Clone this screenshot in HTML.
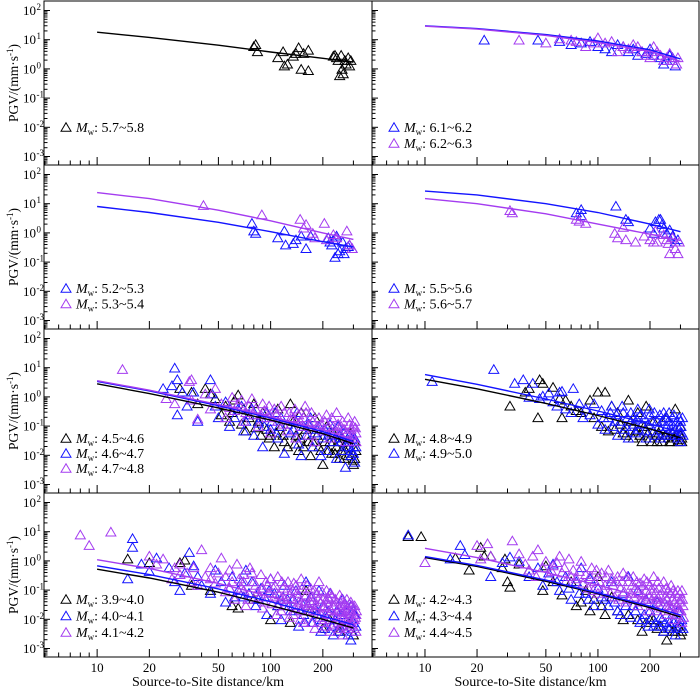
<!DOCTYPE html>
<html><head><meta charset="utf-8">
<style>
html,body{margin:0;padding:0;background:#fff;}
svg{display:block;font-family:"Liberation Serif",serif;}
</style></head>
<body>
<svg id="chart" width="700" height="688" viewBox="0 0 700 688" xmlns="http://www.w3.org/2000/svg"></svg>
<script>
// ---- data ----
const lineD = [10, 20, 50, 100, 200, 300];
const xTickLabels = ["10", "20", "50", "100", "200"];
const yTickExps = [2, 1, 0, -1, -2, -3];

// panel 1 (Mw 5.7~5.8)
const p1Labels = ["5.7~5.8"];
const p1Line0 = [18, 12, 6.5, 3.8, 2.3, 1.7];
const p1Pts0 = [[80,6],[82,7],[84,4],[110,2.5],[118,4],[120,1.3],[125,1.5],[135,2.8],[140,3.5],[145,5.5],[150,1],[155,3.5],[165,4.5],[165,0.9],[230,2.8],[235,3],[240,2.5],[245,2],[250,0.6],[255,3],[258,1],[262,0.7],[268,2],[272,1.5],[280,2.5],[285,1.3],[290,2]];

// panel 2 (Mw 6.1~6.2, 6.2~6.3)
const p2Labels = ["6.1~6.2", "6.2~6.3"];
const p2Line0 = [30, 24, 15, 9, 4.5, 2.2];
const p2Line1 = [29, 23, 14, 8, 4, 1.8];
const p2Pts0 = [[22,10],[45,10],[60,9],[70,7],[80,8],[90,9],[100,6],[110,5],[120,4],[130,7],[140,6],[150,4],[160,5],[170,3],[180,4],[190,3.5],[200,5],[210,3],[230,2.5],[240,1.5],[250,2],[260,3],[270,2.5],[280,1.3]];
const p2Pts1 = [[35,10],[50,8],[60,11],[70,10],[75,9],[85,6],[95,8],[100,12],[110,8],[120,9],[130,4],[140,6],[150,5],[160,7],[170,6],[180,4],[190,3],[200,2.5],[210,6],[220,4],[230,3],[240,2],[250,2.5],[260,3.5],[270,2],[285,1.5],[290,2.5]];

// panel 3 (Mw 5.2~5.3, 5.3~5.4)
const p3Labels = ["5.2~5.3", "5.3~5.4"];
const p3Line0 = [8, 5, 2.3, 1.1, 0.5, 0.33];
const p3Line1 = [24, 15, 6, 2.6, 1, 0.6];
const p3Pts0 = [[78,2.2],[80,1.2],[82,1],[110,0.7],[120,1.2],[122,0.4],[135,0.45],[140,0.6],[150,0.8],[160,0.3],[170,0.8],[215,0.7],[220,0.5],[225,0.4],[230,0.6],[235,0.15],[240,0.8],[245,0.2],[250,0.25],[260,0.5],[265,0.2],[270,0.3],[280,0.35],[285,0.4],[295,0.3]];
const p3Pts1 = [[41,9],[89,4.3],[148,3],[155,1.5],[160,2],[175,1],[180,0.7],[204,2.2],[210,0.6],[230,0.9],[240,0.7],[275,1.2],[285,0.4],[295,0.3]];

// panel 4 (Mw 5.5~5.6, 5.6~5.7)
const p4Labels = ["5.5~5.6", "5.6~5.7"];
const p4Line0 = [27, 20, 10, 5, 2, 1.1];
const p4Line1 = [15, 10, 4.5, 2, 0.9, 0.55];
const p4Pts0 = [[75,5],[80,6.5],[80,4],[127,8.5],[145,3],[150,2.5],[200,1.5],[210,1],[215,2.5],[225,3],[230,3],[235,2],[240,1.5],[250,1],[260,1.3],[270,0.8],[280,0.5],[290,0.6]];
const p4Pts1 = [[31,6],[32,5],[75,3],[78,2.6],[85,2.2],[125,1],[130,0.7],[140,1.6],[145,0.6],[165,0.5],[185,0.8],[200,0.6],[210,0.5],[215,1.2],[220,0.5],[240,0.9],[250,0.6],[255,0.45],[260,0.2],[270,0.7],[280,0.3],[290,0.2],[295,0.5]];

// panel 5 (Mw 4.5~4.6, 4.6~4.7, 4.7~4.8)
const p5Labels = ["4.5~4.6", "4.6~4.7", "4.7~4.8"];
const p5Line0 = [2.8, 1.3, 0.42, 0.16, 0.055, 0.025];
const p5Line1 = [3.4, 1.6, 0.5, 0.19, 0.065, 0.03];
const p5Line2 = [3.6, 1.7, 0.55, 0.21, 0.075, 0.035];
const p5Pts0 = [[30,2],[35,1.5],[38,0.6],[42,2],[45,1.3],[48,0.9],[55,0.5],[60,0.3],[62,0.8],[65,1.2],[70,0.4],[75,0.2],[80,0.6],[85,0.15],[90,0.3],[95,0.08],[100,0.05],[105,0.02],[110,0.4],[115,0.1],[120,0.03],[130,0.6],[135,0.15],[140,0.05],[145,0.015],[150,0.3],[160,0.08],[165,0.03],[170,0.01],[180,0.2],[185,0.05],[190,0.02],[200,0.005],[210,0.1],[220,0.03],[225,0.012],[230,0.06],[240,0.02],[250,0.008],[260,0.04],[270,0.015],[280,0.01],[290,0.06],[300,0.007],[300,0.02],[305,0.03],
  [52,0.25],[58,0.15],[68,0.12],[72,0.07],[82,0.09],[88,0.05],[98,0.04],[108,0.06],[118,0.05],[125,0.02],[138,0.025],[148,0.04],[155,0.02],[175,0.03],[195,0.015],[205,0.03],[215,0.015],[235,0.012],[245,0.03],[255,0.015],[265,0.008],[275,0.03],[285,0.02],[295,0.012],[305,0.008],[310,0.015],[300,0.005],[290,0.01]];
const p5Pts1 = [[24,2],[28,10],[29,4],[27,2.5],[29,0.25],[31,1.5],[33,0.5],[36,1.5],[38,0.15],[45,4],[46,1.3],[48,0.5],[50,0.2],[55,0.7],[58,0.1],[65,0.4],[70,0.07],[75,0.25],[80,0.05],[85,0.13],[90,0.02],[95,0.3],[100,0.08],[110,0.04],[115,0.2],[120,0.012],[130,0.06],[140,0.15],[145,0.025],[150,0.01],[160,0.05],[170,0.2],[175,0.02],[185,0.08],[195,0.01],[200,0.04],[210,0.015],[220,0.12],[230,0.03],[240,0.008],[250,0.05],[260,0.015],[270,0.004],[280,0.03],[290,0.01],[300,0.02],[305,0.006],
  [62,0.2],[68,0.5],[72,0.15],[78,0.4],[88,0.2],[92,0.1],[102,0.15],[106,0.3],[112,0.1],[125,0.12],[135,0.08],[142,0.3],[155,0.1],[165,0.12],[180,0.06],[190,0.1],[205,0.08],[215,0.05],[225,0.06],[235,0.04],[245,0.1],[255,0.03],[265,0.06],[275,0.02],[285,0.05],[295,0.04],[300,0.012],[310,0.02],[305,0.04],[290,0.015]];
const p5Pts2 = [[14,9],[25,0.9],[28,0.6],[34,3.5],[35,4],[35,0.8],[38,0.18],[42,1.3],[45,0.4],[48,2],[52,0.6],[55,0.2],[60,1],[62,0.35],[68,0.8],[70,0.15],[75,0.5],[80,0.25],[85,0.1],[90,0.6],[95,0.2],[100,0.06],[105,0.4],[110,0.15],[120,0.3],[125,0.07],[130,0.18],[140,0.04],[145,0.25],[150,0.1],[160,0.3],[165,0.05],[175,0.15],[180,0.03],[190,0.2],[200,0.07],[210,0.25],[220,0.04],[230,0.1],[240,0.3],[250,0.06],[260,0.15],[270,0.03],[280,0.2],[290,0.08],[300,0.04],[305,0.15],[310,0.06],
  [58,0.45],[65,0.6],[72,0.3],[78,0.9],[82,0.4],[88,0.25],[92,0.35],[98,0.5],[102,0.2],[108,0.25],[115,0.5],[118,0.12],[128,0.3],[135,0.2],[138,0.4],[148,0.15],[155,0.2],[158,0.5],[168,0.12],[172,0.3],[185,0.1],[195,0.12],[205,0.15],[215,0.1],[225,0.2],[235,0.06],[245,0.12],[255,0.1],[265,0.08],[275,0.06],[285,0.12],[295,0.05],[300,0.1],[310,0.03],[308,0.09]];

// panel 6 (Mw 4.8~4.9, 4.9~5.0)
const p6Labels = ["4.8~4.9", "4.9~5.0"];
const p6Line0 = [4, 1.9, 0.6, 0.23, 0.08, 0.04];
const p6Line1 = [5.8, 2.7, 0.85, 0.33, 0.12, 0.06];
const p6Pts0 = [[31,0.5],[38,1.5],[40,2],[45,0.2],[46,4],[48,3],[55,2.2],[60,0.9],[62,0.2],[65,0.8],[70,0.5],[75,0.35],[80,0.3],[90,0.8],[95,0.2],[100,1.5],[105,0.1],[110,1.5],[115,0.07],[120,0.5],[130,0.3],[140,0.06],[150,0.8],[155,0.15],[160,0.04],[170,0.3],[180,0.03],[185,0.1],[190,0.5],[200,0.04],[210,0.15],[220,0.03],[230,0.08],[240,0.04],[250,0.2],[260,0.03],[270,0.06],[280,0.4],[290,0.03],[300,0.05],[300,0.1],
  [125,0.08],[135,0.12],[145,0.05],[165,0.07],[175,0.05],[195,0.06],[205,0.03],[215,0.05],[225,0.06],[235,0.03],[245,0.05],[255,0.04],[265,0.03],[275,0.04],[285,0.05],[295,0.035],[305,0.04],[305,0.03]];
const p6Pts1 = [[11,3.5],[25,9],[33,3],[37,4],[40,1],[42,3],[46,0.9],[48,1.1],[52,1.4],[55,0.7],[58,0.5],[60,1.5],[62,1.6],[65,0.4],[70,0.3],[72,2],[78,0.6],[82,0.2],[85,0.4],[90,0.25],[95,0.6],[100,0.12],[105,0.35],[110,0.08],[115,0.2],[120,0.5],[125,0.15],[130,0.05],[140,0.3],[145,0.1],[150,0.04],[160,0.2],[165,0.06],[170,0.4],[180,0.12],[190,0.04],[200,0.25],[210,0.07],[220,0.15],[230,0.04],[240,0.3],[250,0.1],[260,0.05],[270,0.2],[280,0.08],[290,0.04],[300,0.15],[305,0.06],[300,0.03],
  [108,0.2],[118,0.3],[122,0.1],[128,0.25],[135,0.15],[138,0.5],[142,0.08],[148,0.2],[155,0.3],[158,0.1],[162,0.12],[168,0.18],[172,0.08],[176,0.25],[185,0.2],[188,0.07],[195,0.12],[198,0.4],[205,0.15],[212,0.3],[215,0.05],[225,0.1],[228,0.25],[235,0.15],[238,0.06],[245,0.2],[248,0.05],[255,0.15],[258,0.3],[265,0.08],[268,0.12],[275,0.25],[278,0.05],[285,0.15],[288,0.1],[295,0.2],[298,0.06],[302,0.1],[308,0.2],[310,0.05]];

// panel 7 (Mw 3.9~4.0, 4.0~4.1, 4.1~4.2)
const p7Labels = ["3.9~4.0", "4.0~4.1", "4.1~4.2"];
const p7Line0 = [0.52, 0.26, 0.085, 0.03, 0.01, 0.005];
const p7Line1 = [0.68, 0.34, 0.11, 0.04, 0.013, 0.0065];
const p7Line2 = [1.1, 0.55, 0.17, 0.06, 0.02, 0.01];
const p7Pts0 = [[15,1.2],[20,0.9],[30,0.9],[32,1.1],[35,0.15],[45,0.1],[60,0.03],[65,0.025],[80,0.05],[100,0.01],[110,0.03],[130,0.008],[160,0.1],[170,0.02],[200,0.005],[220,0.01],[250,0.004],[280,0.008],[300,0.003]];
const p7Pts1 = [[15,0.25],[16,6],[16,3],[18,0.8],[20,0.45],[22,1.3],[26,0.6],[28,0.2],[30,0.1],[32,0.4],[34,2],[36,0.7],[38,0.3],[40,0.15],[45,0.08],[48,0.5],[52,0.2],[55,0.04],[60,0.3],[65,0.1],[70,0.06],[72,0.5],[78,0.2],[82,0.03],[88,0.12],[92,0.06],[95,0.015],[100,0.25],[105,0.08],[110,0.03],[115,0.01],[120,0.15],[125,0.05],[130,0.02],[140,0.1],[145,0.006],[150,0.04],[155,0.015],[160,0.2],[170,0.06],[175,0.008],[180,0.025],[190,0.1],[195,0.004],[200,0.03],[210,0.012],[220,0.08],[230,0.003],[240,0.02],[250,0.006],[260,0.05],[270,0.01],[280,0.003],[290,0.03],[300,0.008],[305,0.015],
  [58,0.12],[62,0.06],[68,0.2],[75,0.08],[85,0.05],[98,0.1],[108,0.015],[118,0.06],[128,0.03],[135,0.05],[148,0.02],[158,0.008],[165,0.03],[185,0.015],[198,0.01],[205,0.005],[215,0.02],[225,0.006],[235,0.01],[245,0.004],[255,0.015],[265,0.005],[275,0.02],[285,0.008],[295,0.004],[310,0.006],[300,0.02],[290,0.002]];
const p7Pts2 = [[8,8],[9,3.5],[12,10],[20,1.5],[22,0.8],[24,1.2],[27,0.25],[30,0.8],[33,0.4],[36,0.6],[38,0.15],[40,2.5],[42,0.3],[45,0.6],[48,0.18],[50,0.4],[52,1.3],[55,0.09],[58,0.5],[60,0.2],[64,0.8],[68,0.12],[70,0.35],[74,0.05],[76,0.6],[80,0.2],[84,0.09],[88,0.35],[92,0.04],[96,0.15],[100,0.25],[105,0.06],[110,0.3],[115,0.02],[118,0.12],[122,0.04],[126,0.2],[130,0.08],[135,0.015],[140,0.15],[145,0.04],[150,0.25],[155,0.008],[160,0.07],[165,0.02],[170,0.12],[175,0.04],[180,0.005],[185,0.08],[190,0.2],[195,0.015],[200,0.05],[205,0.01],[210,0.1],[215,0.03],[220,0.004],[225,0.06],[230,0.015],[240,0.04],[245,0.008],[250,0.07],[255,0.02],[260,0.003],[265,0.03],[270,0.01],[275,0.05],[280,0.005],[285,0.02],[290,0.04],[295,0.007],[300,0.015],[305,0.03],[310,0.004],
  [55,0.3],[58,0.12],[62,0.05],[66,0.25],[70,0.1],[72,0.03],[78,0.4],[82,0.15],[86,0.06],[90,0.025],[94,0.2],[98,0.08],[102,0.035],[106,0.15],[108,0.015],[112,0.07],[116,0.2],[119,0.03],[124,0.1],[128,0.012],[132,0.05],[136,0.18],[138,0.025],[142,0.08],[148,0.01],[152,0.12],[156,0.035],[158,0.06],[162,0.15],[168,0.045],[172,0.008],[178,0.1],[182,0.02],[188,0.05],[192,0.012],[198,0.09],[202,0.025],[208,0.006],[212,0.04],[218,0.015],[222,0.08],[228,0.03],[232,0.007],[236,0.05],[242,0.012],[248,0.025],[252,0.04],[258,0.006],[262,0.018],[268,0.035],[272,0.008],[278,0.025],[282,0.012],[288,0.006],[292,0.02],[298,0.01],[302,0.005],[308,0.012],[312,0.02],[250,0.005],[200,0.008],[150,0.02],[120,0.05],[90,0.12],[70,0.2],[45,0.25],[35,0.2],[30,0.35],[28,0.6],
  [104,0.12],[114,0.05],[134,0.1],[144,0.06],[164,0.03],[174,0.06],[184,0.03],[194,0.04],[204,0.03],[214,0.06],[224,0.02],[234,0.03],[244,0.02],[254,0.03],[264,0.012],[274,0.02],[284,0.035],[294,0.03],[304,0.01],[310,0.015],[256,0.05],[216,0.05],[176,0.02],[146,0.03]];

// panel 8 (Mw 4.2~4.3, 4.3~4.4, 4.4~4.5)
const p8Labels = ["4.2~4.3", "4.3~4.4", "4.4~4.5"];
const p8Line0 = [1.3, 0.65, 0.2, 0.075, 0.025, 0.012];
const p8Line1 = [1.4, 0.7, 0.22, 0.08, 0.028, 0.014];
const p8Line2 = [2.7, 1.3, 0.4, 0.15, 0.05, 0.025];
const p8Pts0 = [[8,7],[9.5,7],[15,1.3],[18,0.5],[21,3],[22,1.5],[24,1.5],[28,0.6],[29,1.2],[30,0.2],[31,0.13],[35,0.8],[40,0.5],[48,0.1],[50,0.7],[55,0.2],[62,0.07],[70,0.2],[75,0.03],[85,0.1],[90,0.02],[100,0.3],[110,0.015],[120,0.06],[140,0.01],[160,0.03],[180,0.004],[200,0.01],[220,0.005],[250,0.002],[280,0.004],[300,0.003],
  [80,0.04],[95,0.05],[105,0.03],[130,0.02],[150,0.015],[170,0.01],[190,0.008],[210,0.01],[230,0.006],[240,0.004],[260,0.005],[270,0.004],[290,0.006],[305,0.004]];
const p8Pts1 = [[8,8],[14,1.2],[16,3.5],[17,1.7],[24,0.3],[28,0.9],[31,1.4],[35,1],[40,0.3],[45,0.6],[48,0.15],[52,0.4],[55,0.8],[60,0.1],[65,0.3],[70,0.05],[75,0.2],[80,0.6],[85,0.08],[90,0.25],[95,0.03],[100,0.12],[110,0.05],[120,0.2],[130,0.02],[140,0.08],[150,0.3],[160,0.03],[170,0.1],[180,0.01],[190,0.05],[200,0.02],[210,0.006],[220,0.04],[230,0.012],[240,0.004],[250,0.03],[260,0.008],[270,0.015],[280,0.003],[290,0.02],[300,0.006],[305,0.01],
  [58,0.2],[68,0.12],[78,0.08],[88,0.05],[105,0.06],[115,0.03],[125,0.04],[135,0.015],[145,0.03],[155,0.012],[165,0.02],[175,0.008],[185,0.015],[195,0.006],[205,0.012],[215,0.008],[225,0.006],[235,0.01],[245,0.008],[255,0.005],[265,0.006],[275,0.008],[285,0.005],[295,0.01],[310,0.005]];
const p8Pts2 = [[10,0.9],[20,3.5],[21,1.2],[23,4],[24,1.5],[32,5],[35,1.8],[38,0.8],[42,1.5],[45,2.5],[48,0.6],[50,1],[52,0.3],[55,0.7],[60,1.5],[62,0.4],[65,0.2],[68,1.2],[72,0.5],[75,0.25],[80,1],[85,0.35],[88,0.12],[92,0.6],[96,0.2],[100,0.08],[105,0.4],[110,0.15],[115,0.5],[120,0.25],[125,0.06],[130,0.3],[135,0.12],[140,0.4],[145,0.04],[150,0.2],[155,0.08],[160,0.3],[165,0.12],[170,0.03],[175,0.18],[180,0.07],[185,0.25],[190,0.1],[195,0.02],[200,0.15],[205,0.05],[210,0.3],[215,0.08],[220,0.02],[225,0.12],[230,0.04],[240,0.2],[245,0.06],[250,0.015],[255,0.1],[260,0.03],[265,0.15],[270,0.05],[275,0.01],[280,0.08],[285,0.03],[290,0.1],[295,0.02],[300,0.05],[305,0.008],[310,0.03],
  [40,0.5],[44,0.3],[54,0.45],[58,0.9],[64,0.6],[70,0.3],[78,0.45],[82,0.18],[90,0.3],[94,0.1],[98,0.5],[102,0.2],[108,0.1],[112,0.3],[118,0.08],[122,0.15],[128,0.2],[132,0.05],[138,0.2],[142,0.09],[148,0.3],[152,0.05],[158,0.15],[162,0.06],[168,0.2],[172,0.08],[178,0.04],[182,0.15],[188,0.05],[192,0.2],[198,0.06],[202,0.1],[208,0.03],[212,0.12],[218,0.05],[222,0.2],[228,0.07],[232,0.025],[238,0.1],[242,0.04],[248,0.12],[252,0.05],[258,0.02],[262,0.08],[268,0.025],[272,0.1],[278,0.04],[282,0.015],[288,0.06],[292,0.025],[298,0.08],[302,0.02],[308,0.05],[312,0.012],[306,0.1],[296,0.04]];

// ---- layout ----
const NS = "http://www.w3.org/2000/svg";
const svg = document.getElementById("chart");
const COLORS = ["#000000", "#1414ff", "#a43cf0"];
const COLS = [[44, 372], [372, 699]];
const ROWS = [[1, 165], [165, 329], [329, 493], [493, 657]];
const XL0 = Math.log10(4.94), XL1 = Math.log10(384);
const DEC = 29.2;

function el(tag, attrs, parent) {
  const e = document.createElementNS(NS, tag);
  for (const k in attrs) e.setAttribute(k, attrs[k]);
  (parent || svg).appendChild(e);
  return e;
}
function xScale(col, d) {
  const [a, b] = COLS[col];
  return a + (Math.log10(d) - XL0) / (XL1 - XL0) * (b - a);
}
function yScale(row, v) {
  return ROWS[row][0] + 9.5 + (2 - Math.log10(v)) * DEC;
}

const panels = [
  {row:0, col:0, labels:p1Labels, colors:[0], lines:[p1Line0], pts:[p1Pts0], legY:127, legStep:16},
  {row:0, col:1, labels:p2Labels, colors:[1,2], lines:[p2Line0,p2Line1], pts:[p2Pts0,p2Pts1], legY:127, legStep:16},
  {row:1, col:0, labels:p3Labels, colors:[1,2], lines:[p3Line0,p3Line1], pts:[p3Pts0,p3Pts1], legY:288, legStep:15.5},
  {row:1, col:1, labels:p4Labels, colors:[1,2], lines:[p4Line0,p4Line1], pts:[p4Pts0,p4Pts1], legY:288, legStep:15.5},
  {row:2, col:0, labels:p5Labels, colors:[0,1,2], lines:[p5Line0,p5Line1,p5Line2], pts:[p5Pts0,p5Pts1,p5Pts2], legY:438, legStep:15},
  {row:2, col:1, labels:p6Labels, colors:[0,1], lines:[p6Line0,p6Line1], pts:[p6Pts0,p6Pts1], legY:438, legStep:15},
  {row:3, col:0, labels:p7Labels, colors:[0,1,2], lines:[p7Line0,p7Line1,p7Line2], pts:[p7Pts0,p7Pts1,p7Pts2], legY:599, legStep:16.5},
  {row:3, col:1, labels:p8Labels, colors:[0,1,2], lines:[p8Line0,p8Line1,p8Line2], pts:[p8Pts0,p8Pts1,p8Pts2], legY:599, legStep:16.5}
];

function tri(g, cx, cy, color) {
  return el("polygon", {points:`${cx-5},${cy+4.3} ${cx+5},${cy+4.3} ${cx},${cy-4.3}`, fill:"none", stroke:color, "stroke-width":"1"}, g);
}

panels.forEach((P, pi) => {
  const [x0, x1] = COLS[P.col];
  const [t, b] = ROWS[P.row];
  const g = el("g", {});
  
  

  const cp = el("clipPath", {id:"clip" + pi}, g);
  el("rect", {x:x0, y:t, width:x1 - x0, height:b - t}, cp);

  const yt = el("g", {stroke:"#000", "stroke-width":"1"}, g);
  
  
  for (let e = -4; e <= 2; e++) {
    for (let m = 1; m <= 9; m++) {
      const v = m * Math.pow(10, e);
      const yy = yScale(P.row, v);
      if (yy < t + 1 || yy > b - 1) continue;
      const len = m === 1 ? 6 : 3.5;
      el("line", {x1:x0, y1:yy, x2:x0 + len, y2:yy}, yt);
    }
  }
  const xt = el("g", {stroke:"#000", "stroke-width":"1"}, g);
  
  
  const majors = [10, 20, 50, 100, 200];
  for (let e = 0; e <= 2; e++) {
    for (let m = 1; m <= 9; m++) {
      const d = m * Math.pow(10, e);
      if (d < 5 || d > 380) continue;
      const xx = xScale(P.col, d);
      const len = majors.includes(d) ? 8 : 4.5;
      el("line", {x1:xx, y1:b, x2:xx, y2:b - len}, xt);
    }
  }

  if (P.col === 0) {
    yTickExps.forEach(ex => {
      const yy = yScale(P.row, Math.pow(10, ex));
      const tx = el("text", {x:36, y:yy + 4.5, "font-size":"13", "text-anchor":"end", fill:"#000"}, g);
      
      
      tx.textContent = "10";
      const sup = el("tspan", {x:36.5, dy:"-5", "font-size":"9", "text-anchor":"start"}, tx);
      sup.textContent = String(ex);
    });
    const yl = el("text", {x:0, y:0, "font-size":"13.5", "text-anchor":"middle", fill:"#000",
      transform:`translate(18,${(t + b) / 2}) rotate(-90)`}, g);
    
    
    yl.textContent = "PGV/(mm·s";
    const s1 = el("tspan", {dy:"-5", "font-size":"9"}, yl); s1.textContent = "-1";
    const s2 = el("tspan", {dy:"5"}, yl); s2.textContent = ")";
  }

  const data = el("g", {"clip-path":`url(#clip${pi})`}, g);
  P.pts.forEach((arr, si) => {
    const sg = el("g", {}, data);
    
    
    arr.forEach(pt => {
      const m = tri(sg, xScale(P.col, pt[0]), yScale(P.row, pt[1]), COLORS[P.colors[si]]);
      
      
    });
  });
  P.lines.forEach((arr, si) => {
    const pts = arr.map((v, i) => `${xScale(P.col, lineD[i]).toFixed(1)},${yScale(P.row, v).toFixed(1)}`).join(" ");
    const ln = el("polyline", {points:pts, fill:"none", stroke:COLORS[P.colors[si]], "stroke-width":"1.4"}, data);
    
    
  });

  const fr = el("rect", {x:x0, y:t, width:x1 - x0, height:b - t, fill:"none", stroke:"#000", "stroke-width":"1"}, g);
  
  

  P.labels.forEach((lab, si) => {
    const ly = P.legY + si * P.legStep;
    const lg = el("g", {}, g);
    
    
    tri(lg, x0 + 22, ly, COLORS[P.colors[si]]);
    const tx = el("text", {x:x0 + 32, y:ly + 5, "font-size":"14", fill:"#000"}, lg);
    const m = el("tspan", {"font-style":"italic"}, tx); m.textContent = "M";
    const w = el("tspan", {dy:"3", "font-size":"9"}, tx); w.textContent = "w";
    const r = el("tspan", {dy:"-3"}, tx); r.textContent = ": " + lab;
  });

  if (P.row === 3) {
    xTickLabels.forEach(l => {
      const tx = el("text", {x:xScale(P.col, +l), y:672, "font-size":"13", "text-anchor":"middle", fill:"#000"}, g);
      
      
      tx.textContent = l;
    });
    const xtl = el("text", {x:(x0 + x1) / 2 - (P.col === 0 ? 0 : 5), y:686, "font-size":"14", "text-anchor":"middle", fill:"#000"}, g);
    
    
    xtl.textContent = "Source-to-Site distance/km";
  }
});
</script>
</body></html>
